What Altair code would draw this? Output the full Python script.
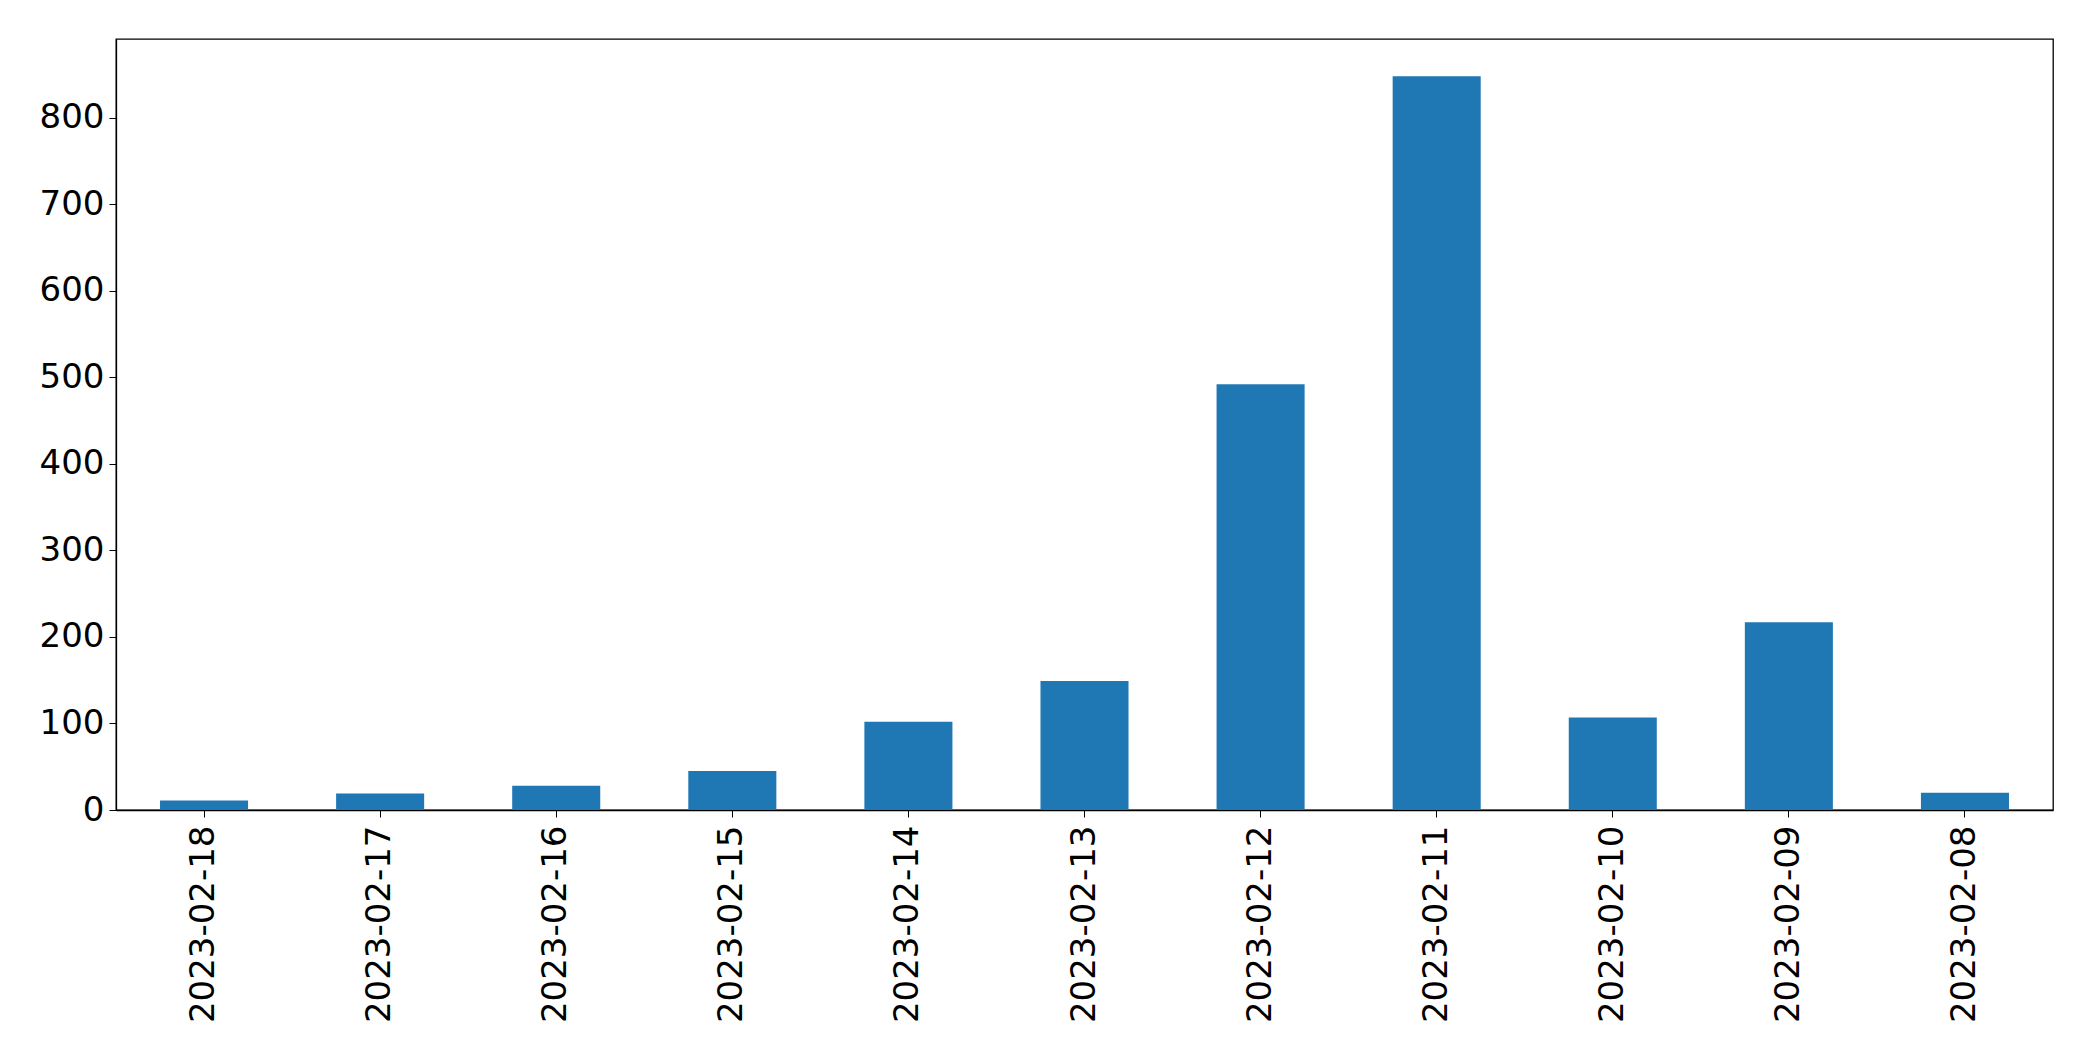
import altair as alt
import pandas as pd

dates = ["2023-02-18", "2023-02-17", "2023-02-16", "2023-02-15", "2023-02-14",
         "2023-02-13", "2023-02-12", "2023-02-11", "2023-02-10", "2023-02-09",
         "2023-02-08"]
counts = [11, 19, 28, 45, 102, 149, 492, 848, 107, 217, 20]
y_ticks = [0, 100, 200, 300, 400, 500, 600, 700, 800]

df = pd.DataFrame({"date": dates, "count": counts})

FONT = "DejaVu Sans"

chart = alt.Chart(df).mark_bar(color="#1f77b4").encode(
    x=alt.X("date:N", sort=dates, title=None,
            scale=alt.Scale(paddingInner=0.5, paddingOuter=0.25),
            axis=alt.Axis(labelAngle=-90, labelFontSize=34, labelFont=FONT,
                          labelColor="black", tickColor="black", tickSize=7,
                          labelPadding=8, domainColor="black", domainWidth=1.3,
                          grid=False, labelBaseline="middle", labelAlign="right",
                          labelLimit=0, labelOverlap=False)),
    y=alt.Y("count:Q", title=None,
            scale=alt.Scale(domain=[0, 891], nice=False),
            axis=alt.Axis(values=y_ticks, labelFontSize=34, labelFont=FONT,
                          labelColor="black", tickColor="black", tickSize=7,
                          labelPadding=5, domainColor="black", domainWidth=1.3,
                          grid=False)),
).properties(
    width=1937,
    height=771,
    autosize=alt.AutoSizeParams(type="none"),
    padding={"left": 108, "top": 31, "right": 32, "bottom": 243},
).configure_view(stroke="black", strokeWidth=1.3)

chart.save("out.html", embed_options={"renderer": "svg", "actions": False})
